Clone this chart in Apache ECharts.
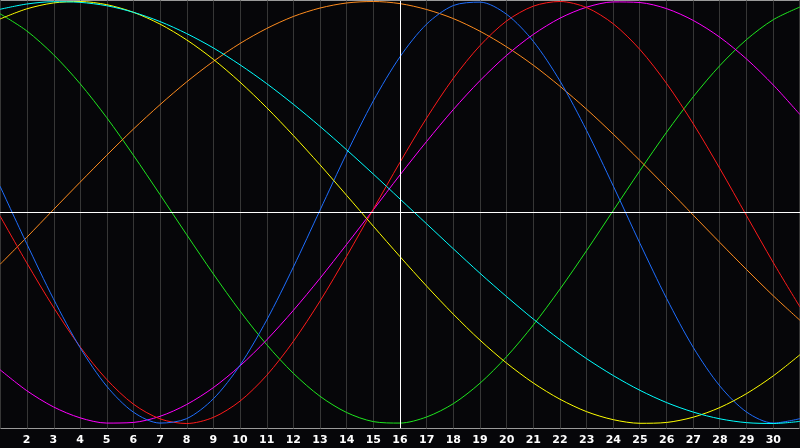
<!DOCTYPE html>
<html>
<head>
<meta charset="utf-8">
<script src="https://cdn.jsdelivr.net/npm/echarts@6/dist/echarts.min.js"></script>
<style>
html,body{margin:0;padding:0;background:#060609;}
#c{width:800px;height:448px;}
</style>
</head>
<body>
<div id="c"></div>
<script>
// Days of the month (x positions)
const days = [1,2,3,4,5,6,7,8,9,10,11,12,13,14,15,16,17,18,19,20,21,22,23,24,25,26,27,28,29,30,31];

// Curve values (range -1 .. 1)
const blueValues = [0.125,-0.147,-0.408,-0.640,-0.823,-0.946,-0.998,-0.977,-0.883,-0.724,-0.510,-0.259,0.011,0.280,0.529,0.738,0.893,0.981,0.997,0.939,0.811,0.623,0.388,0.125,-0.147,-0.408,-0.640,-0.823,-0.946,-0.998,-0.977];
const redValues = [-0.016,-0.238,-0.448,-0.636,-0.791,-0.908,-0.978,-1.000,-0.971,-0.894,-0.772,-0.611,-0.420,-0.207,0.016,0.238,0.448,0.636,0.791,0.908,0.978,1.000,0.971,0.894,0.772,0.611,0.420,0.207,-0.016,-0.238,-0.448];
const greenValues = [0.942,0.861,0.749,0.611,0.450,0.272,0.085,-0.105,-0.291,-0.467,-0.626,-0.762,-0.871,-0.948,-0.991,-0.998,-0.969,-0.906,-0.809,-0.683,-0.533,-0.363,-0.180,0.010,0.199,0.381,0.549,0.697,0.820,0.914,0.974];
const magentaValues = [-0.745,-0.844,-0.921,-0.973,-0.998,-0.995,-0.966,-0.910,-0.830,-0.727,-0.604,-0.464,-0.312,-0.151,0.013,0.178,0.337,0.488,0.625,0.745,0.844,0.921,0.973,0.998,0.995,0.966,0.910,0.830,0.727,0.604,0.464];
const yellowValues = [0.917,0.965,0.993,1.000,0.985,0.949,0.893,0.818,0.726,0.618,0.497,0.365,0.226,0.081,-0.065,-0.209,-0.349,-0.482,-0.605,-0.714,-0.808,-0.885,-0.944,-0.982,-0.999,-0.995,-0.970,-0.924,-0.858,-0.774,-0.674];
const orangeValues = [-0.246,-0.118,0.013,0.143,0.271,0.395,0.511,0.619,0.716,0.801,0.872,0.929,0.969,0.993,1.000,0.990,0.962,0.919,0.859,0.785,0.698,0.598,0.489,0.371,0.246,0.118,-0.013,-0.143,-0.271,-0.395,-0.511];
const cyanValues = [0.963,0.988,0.999,0.996,0.980,0.949,0.905,0.848,0.780,0.700,0.611,0.513,0.408,0.297,0.182,0.064,-0.054,-0.172,-0.288,-0.399,-0.505,-0.603,-0.693,-0.773,-0.843,-0.901,-0.946,-0.978,-0.996,-1.000,-0.990];

// Reference lines
const centerDay = 16;
const zeroValue = 0;

const seriesDefs = [
  {name:'green', values:greenValues, color:'#1ee61e'},
  {name:'orange', values:orangeValues, color:'#ff8c1e'},
  {name:'magenta', values:magentaValues, color:'#ff00ff'},
  {name:'red', values:redValues, color:'#ff1a1a'},
  {name:'blue', values:blueValues, color:'#1e6eff'},
  {name:'yellow', values:yellowValues, color:'#ffff00'},
  {name:'cyan', values:cyanValues, color:'#00ffff'}
];

const chart = echarts.init(document.getElementById('c'), null, {renderer:'canvas'});

const series = seriesDefs.map((s, i) => ({
  name: s.name,
  type: 'line',
  xAxisIndex: 0,
  yAxisIndex: 0,
  data: days.map((d, k) => [d, s.values[k]]),
  smooth: 0.3,
  symbol: 'none',
  lineStyle: {color: s.color, width: 1},
  itemStyle: {color: s.color},
  z: 3,
  markLine: i === 0 ? {
    silent: true,
    symbol: 'none',
    label: {show: false},
    lineStyle: {color: '#ffffff', width: 1, type: 'solid'},
    emphasis: {disabled: true},
    data: [{yAxis: zeroValue}]
  } : undefined
}));

// Frame series (carries the full-height white centre line)
series.push({
  name: 'frame',
  type: 'line',
  xAxisIndex: 1,
  yAxisIndex: 1,
  data: [],
  symbol: 'none',
  z: 2,
  markLine: {
    silent: true,
    symbol: 'none',
    label: {show: false},
    lineStyle: {color: '#ffffff', width: 1, type: 'solid'},
    emphasis: {disabled: true},
    data: [{xAxis: centerDay}]
  }
});

chart.setOption({
  animation: false,
  backgroundColor: '#060609',
  grid: [
    {left: 0, right: 0, top: 1.5, bottom: 24.5, show: false},
    {left: 0.5, right: 0.5, top: 0.5, bottom: 19.5, show: true, borderColor: '#9a9a9a', borderWidth: 1, backgroundColor: 'transparent'}
  ],
  xAxis: [
    {
      type: 'value', gridIndex: 0, min: 1, max: 31, interval: 1,
      axisLine: {show: false}, axisTick: {show: false},
      axisLabel: {show: true, color: '#ffffff', fontWeight: 'bold', fontSize: 11, fontFamily: 'DejaVu Sans', margin: 11, showMinLabel: false, showMaxLabel: false},
      splitLine: {show: false}
    },
    {
      type: 'value', gridIndex: 1, min: 1, max: 31, interval: 1,
      axisLine: {show: false}, axisTick: {show: false}, axisLabel: {show: false},
      splitLine: {show: true, lineStyle: {color: '#363636', width: 1}}
    }
  ],
  yAxis: [
    {
      type: 'value', gridIndex: 0, min: -1, max: 1,
      axisLine: {show: false}, axisTick: {show: false}, axisLabel: {show: false},
      splitLine: {show: false}
    },
    {type: 'value', gridIndex: 1, min: 0, max: 1, axisLine: {show: false}, axisTick: {show: false}, axisLabel: {show: false}, splitLine: {show: false}}
  ],
  series: series
});
</script>
</body>
</html>
